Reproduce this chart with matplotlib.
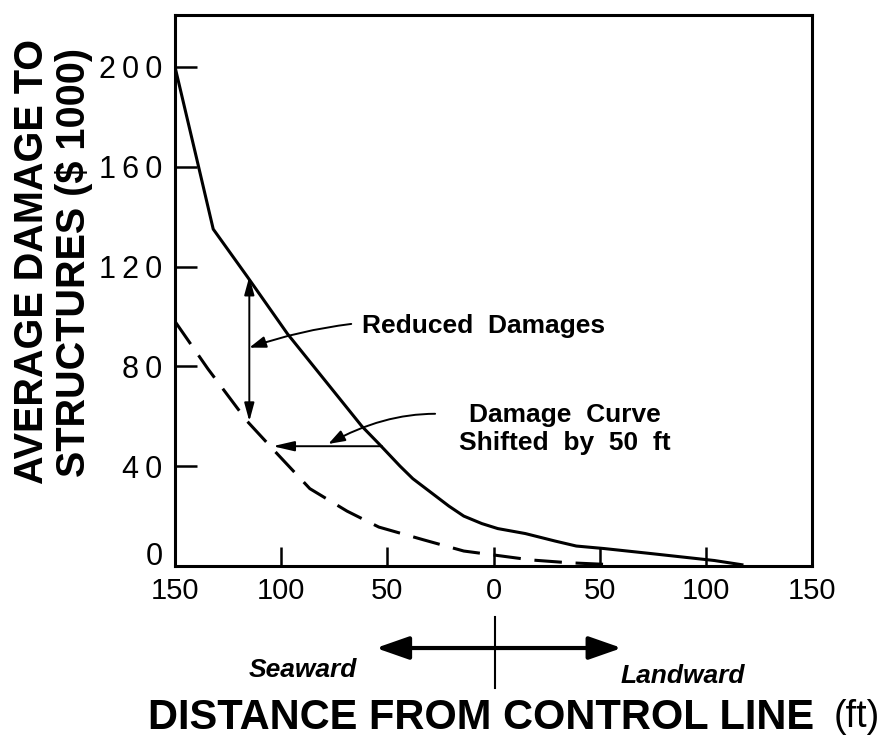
import numpy as np
import matplotlib
matplotlib.use("Agg")
import matplotlib.pyplot as plt
from matplotlib.transforms import ScaledTranslation

# Damage curves (distance: negative = seaward)
solid_x = [-150, -140, -132, -116, -97, -62, -54, -44, -38, -21, -14, -5.5, 2, 15, 29, 39, 52, 74, 104, 117]
solid_y = [200, 164, 135, 116, 93, 56, 49, 40, 35, 24, 20, 17, 15, 13, 10, 8, 7, 5, 2.2, 0.5]

shift_x = [-150, -134.5, -116, -103, -86.5, -69, -54, -33, -14, 2, 18, 35.5, 54]
shift_y = [98, 79, 58, 46, 31, 22, 15.6, 10.5, 6, 4.2, 2.4, 1.3, 0.6]

x_ticks = [-150, -100, -50, 0, 50, 100, 150]
x_ticklabels = ["150", "100", "50", "0", "50", "100", "150"]
y_ticks = [0, 40, 80, 120, 160, 200]
y_ticklabels = ["0", "4\u20090", "8\u20090", "1\u20092\u20090", "1\u20096\u20090", "2\u20090\u20090"]

plt.rcParams["font.family"] = ["Liberation Sans", "DejaVu Sans"]

fig = plt.figure(figsize=(8.84, 7.47), dpi=100)
ax = fig.add_axes([175 / 884, 1 - 566 / 747, 637 / 884, 551 / 747])

ax.plot(solid_x, solid_y, color="black", lw=2.2)
ax.plot(shift_x, shift_y, color="black", lw=2.2, ls=(0, (9, 4.5)))

ax.set_xlim(-150, 150)
ax.set_ylim(0, 220.8)
ax.set_xticks(x_ticks)
ax.set_xticklabels(x_ticklabels)
ax.set_yticks(y_ticks)
ax.set_yticklabels(y_ticklabels)
ax.tick_params(axis="x", direction="in", length=14, width=1.8, pad=8, labelsize=21)
ax.tick_params(axis="y", direction="in", length=16, width=1.8, pad=9, labelsize=22)
for s in ax.spines.values():
    s.set_linewidth(2.2)

# the "0" on the y axis sits a little above the corner
zero_lbl = ax.get_yticklabels()[0]
zero_lbl.set_transform(zero_lbl.get_transform() + ScaledTranslation(0, 9 / 72, fig.dpi_scale_trans))

# vertical double arrow between the curves
ax.annotate("", xy=(-115, 58), xytext=(-115, 116),
            arrowprops=dict(arrowstyle="<|-|>,head_length=1.1,head_width=0.3", color="black",
                            lw=1.4, shrinkA=0, shrinkB=0, mutation_scale=10))
# horizontal arrow, shifted curve
ax.annotate("", xy=(-104, 48), xytext=(-52.5, 48),
            arrowprops=dict(arrowstyle="-|>,head_length=1.3,head_width=0.3", color="black",
                            lw=1.4, shrinkA=0, shrinkB=0, mutation_scale=10))

# labels with curved leaders
ax.text(-62, 96, "Reduced  Damages", ha="left", va="center", fontsize=19, fontweight="bold")
ax.annotate("", xy=(-115, 87.5), xytext=(-67, 97),
            arrowprops=dict(arrowstyle="-|>,head_length=1.0,head_width=0.35", color="black",
                            lw=1.4, shrinkA=0, shrinkB=0, mutation_scale=10,
                            connectionstyle="angle3,angleA=7,angleB=19"))
ax.text(33.6, 55, "Damage  Curve\nShifted  by  50  ft", ha="center", va="center",
        fontsize=19, fontweight="bold", linespacing=1.2)
ax.annotate("", xy=(-77.8, 48.9), xytext=(-27.5, 61),
            arrowprops=dict(arrowstyle="-|>,head_length=1.0,head_width=0.35", color="black",
                            lw=1.4, shrinkA=0, shrinkB=0, mutation_scale=10,
                            connectionstyle="angle3,angleA=0,angleB=29"))

# seaward / landward indicator below the axis
fig.add_artist(plt.Line2D([0.5594, 0.5594], [0.174, 0.079], transform=fig.transFigure,
                          color="black", lw=1.5))
ax.annotate("", xy=(0.4253, 0.1325), xytext=(0.7033, 0.1325),
            xycoords="figure fraction", textcoords="figure fraction",
            arrowprops=dict(arrowstyle="<|-|>,head_length=2.0,head_width=0.7", color="black",
                            lw=3, shrinkA=0, shrinkB=0, mutation_scale=10))
fig.text(0.3428, 0.1031, "Seaward", ha="center", va="center", fontsize=19,
         fontweight="bold", fontstyle="italic")
fig.text(0.7721, 0.0950, "Landward", ha="center", va="center", fontsize=19,
         fontweight="bold", fontstyle="italic")

# axis titles
fig.text(0.1674, 0.0388, "DISTANCE FROM CONTROL LINE", ha="left", va="center",
         fontsize=30, fontweight="bold")
fig.text(0.9955, 0.0402, "(ft)", ha="right", va="center", fontsize=27)
fig.text(0.0600, 0.6493, "AVERAGE DAMAGE TO\nSTRUCTURES ($ 1000)", rotation=90,
         ha="center", va="center", fontsize=28.5, fontweight="bold", linespacing=1.15,
         multialignment="center")

fig.savefig("out.png", dpi=100)
